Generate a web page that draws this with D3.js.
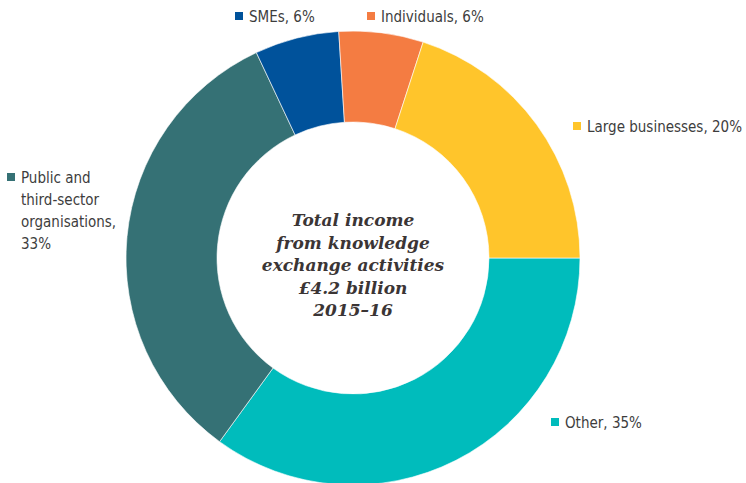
<!DOCTYPE html>
<html>
<head>
<meta charset="utf-8">
<script src="https://cdn.jsdelivr.net/npm/d3@7"></script>
<style>
  body { margin: 0; background: #fff; }
  svg { display: block; }
  .lbl { font-family: "DejaVu Sans Condensed", "DejaVu Sans", sans-serif; font-stretch: condensed; font-size: 15px; fill: #3d3d3d; }
  .centre { font-family: "DejaVu Serif", Georgia, serif; font-weight: bold; font-style: italic; font-size: 17px; fill: #3b3535; }
</style>
</head>
<body>
<div id="chart"></div>
<script>
'use strict';

// slices, clockwise from 3 o'clock
var categories = ["Other", "Public and third-sector organisations", "SMEs", "Individuals", "Large businesses"];
var shares = [35, 33, 6, 6, 20];
var colours = ["#00bcbc", "#357175", "#00529b", "#f47c42", "#ffc52b"];
var labelLines = [
    ["Other, 35%"],
    ["Public and", "third-sector", "organisations,", "33%"],
    ["SMEs, 6%"],
    ["Individuals, 6%"],
    ["Large businesses, 20%"]
];
var centreLines = ["Total income", "from knowledge", "exchange activities", "\u00a34.2 billion", "2015\u201316"];

var W = 746, H = 483;
var cx = 353, cy = 258;
var outerR = 227, innerR = 136;

// legend anchor per slice (square top-left)
var labelPos = [
    {x: 551, y: 418},
    {x: 7, y: 173},
    {x: 235, y: 12},
    {x: 367, y: 12},
    {x: 573, y: 122}
];

var svg = d3.select("#chart").append("svg")
    .attr("width", W)
    .attr("height", H);

var g = svg.append("g")
    .attr("transform", "translate(" + cx + "," + cy + ")");

var pie = d3.pie()
    .sort(null)
    .startAngle(Math.PI / 2)
    .endAngle(Math.PI / 2 + 2 * Math.PI)
    .value(function(d) { return d; });

var arc = d3.arc()
    .innerRadius(innerR)
    .outerRadius(outerR);

g.selectAll("path.slice")
    .data(pie(shares))
    .enter().append("path")
    .attr("class", "slice")
    .attr("d", arc)
    .attr("fill", function(d, i) { return colours[i]; })
    .attr("stroke", "#fff")
    .attr("stroke-width", 0.6);

// centre text
var ct = g.append("text")
    .attr("class", "centre")
    .attr("text-anchor", "middle");
centreLines.forEach(function(t, i) {
    ct.append("tspan")
        .attr("x", 0)
        .attr("y", -32 + i * 22.5)
        .text(t);
});

// labels
var lg = svg.append("g");
categories.forEach(function(c, i) {
    var p = labelPos[i];
    lg.append("rect")
        .attr("x", p.x)
        .attr("y", p.y)
        .attr("width", 8)
        .attr("height", 8)
        .attr("fill", colours[i]);
    var t = lg.append("text")
        .attr("class", "lbl");
    labelLines[i].forEach(function(line, j) {
        t.append("tspan")
            .attr("x", p.x + 14)
            .attr("y", p.y + 10 + j * 22)
            .text(line);
    });
});
</script>
</body>
</html>
